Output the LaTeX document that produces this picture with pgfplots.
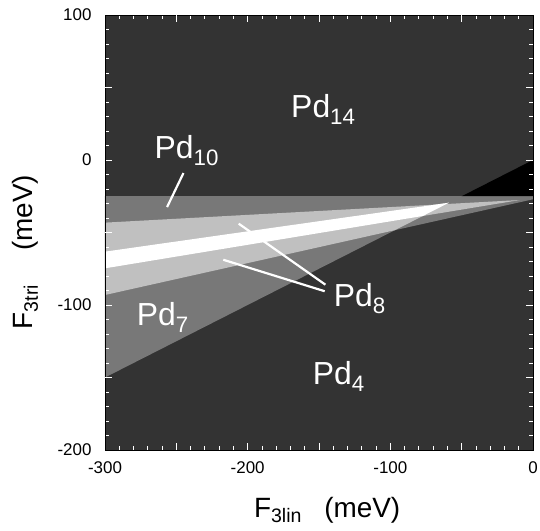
\documentclass[border=0pt]{standalone}
\usepackage{fontspec}
\setmainfont{Liberation Sans}
\usepackage{pgfplots}
\pgfplotsset{compat=1.18}
\definecolor{bgdark}{RGB}{51,51,51}
\definecolor{midgray}{RGB}{120,120,120}
\definecolor{litegray}{RGB}{192,192,192}
\begin{document}
\begin{tikzpicture}
\path[use as bounding box] (-105bp,-81bp) rectangle (435bp,450bp);
\begin{axis}[
  scale only axis, width=428bp, height=435bp,
  xmin=-300, xmax=0, ymin=-200, ymax=100,
  axis background/.style={fill=bgdark},
  axis on top,
  xtick={-300,-200,-100,0}, ytick={-200,-100,0,100},
  minor x tick num=9, minor y tick num=9,
  extra x ticks={-250,-150,-50}, extra y ticks={-150,-50,50},
  extra x tick labels={}, extra y tick labels={},
  major tick length=7bp, minor tick length=4bp,
  tick style={white, line width=0.8pt},
  axis line style={black, line width=0.8pt},
  /pgf/number format/assume math mode=true,
  ticklabel style={font=\fontsize{17}{20}\selectfont},
  yticklabel style={xshift=-10bp},
  xticklabel style={yshift=-8bp},
  xlabel={F\textsubscript{3lin}\hspace{0.8em}(meV)},
  ylabel={F\textsubscript{3tri}\hspace{1.2em}(meV)},
  label style={font=\fontsize{28}{31}\selectfont},
  xlabel style={at={(axis description cs:0.519,-0.138)}, anchor=center},
  ylabel style={at={(axis description cs:-0.187,0.455)}, anchor=center},
]
% Pd10 + Pd7 mid-gray band
\addplot[fill=midgray, draw=none] coordinates {(-300,-25) (0,-25) (0,-27.1) (-96.8,-48.4) (-300,-150)} -- cycle;
% black triangle
\addplot[fill=black, draw=none] coordinates {(-50,-25) (0,0) (0,-25)} -- cycle;
% Pd8 upper light gray
\addplot[fill=litegray, draw=none] coordinates {(-300,-43.2) (-9.2,-27.6) (-300,-74.7)} -- cycle;
% Pd8 lower light gray
\addplot[fill=litegray, draw=none] coordinates {(-300,-63.2) (-58.9,-29.45) (-96.8,-48.4) (-300,-93.1)} -- cycle;
% white overlap
\addplot[fill=white, draw=none] coordinates {(-300,-63.2) (-58.9,-29.45) (-77.2,-38.6) (-300,-74.7)} -- cycle;
% pointer lines
\addplot[white, line width=2.2bp] coordinates {(-245,-9) (-256.5,-32.5)};
\addplot[white, line width=2.2bp] coordinates {(-206.3,-43.9) (-145.5,-86)};
\addplot[white, line width=2.2bp] coordinates {(-217.1,-68.8) (-146,-90.5)};
% labels
\begin{scope}[every node/.style={text=white, font=\fontsize{32}{34}\selectfont, inner sep=0pt}]
\node[anchor=base west] at (axis cs:-169.6,29) {Pd\textsubscript{14}};
\node[anchor=base west] at (axis cs:-265.3,1.2) {Pd\textsubscript{10}};
\node[anchor=base west] at (axis cs:-277.8,-114) {Pd\textsubscript{7}};
\node[anchor=base west] at (axis cs:-139.7,-101.2) {Pd\textsubscript{8}};
\node[anchor=base west] at (axis cs:-154.5,-154.7) {Pd\textsubscript{4}};
\end{scope}
\end{axis}
\end{tikzpicture}
\end{document}
